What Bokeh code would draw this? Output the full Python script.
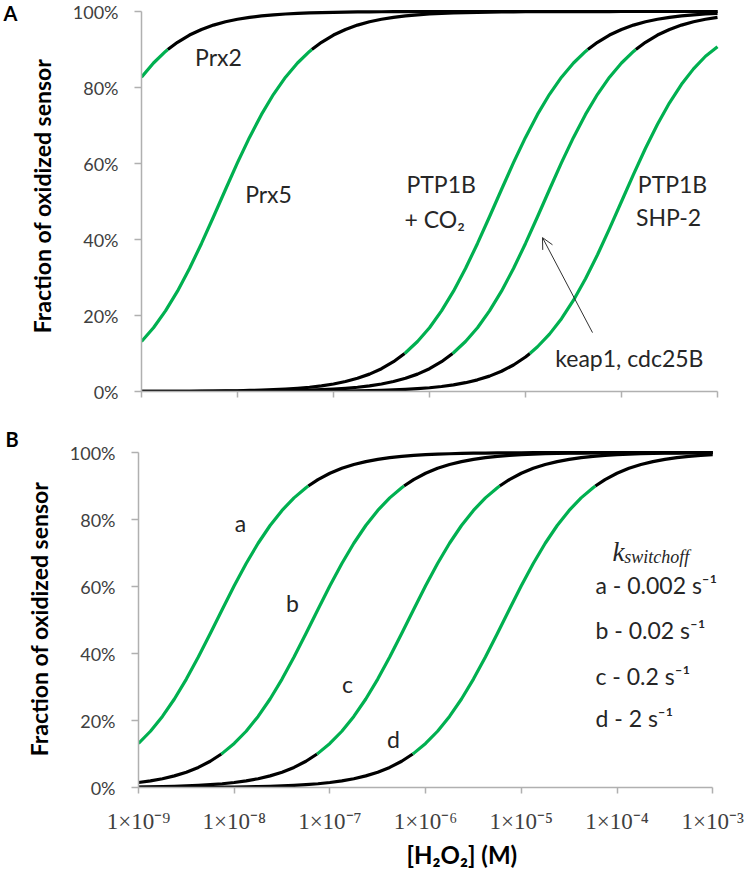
from bokeh.plotting import figure
from bokeh.layouts import column, row
from bokeh.models import (Range1d, FixedTicker, NumeralTickFormatter, Label, Arrow,
                          OpenHead, CustomJSTickFormatter, Title)
from bokeh.embed import file_html
from bokeh.resources import INLINE

# ---------------- data ----------------
# log10 of [H2O2] (M) at which the curve values were read
LOG_H2O2 = [-9.0, -8.875, -8.75, -8.625, -8.5, -8.375, -8.25, -8.125, -8.0, -7.875,
            -7.75, -7.625, -7.5, -7.375, -7.25, -7.125, -7.0, -6.875, -6.75, -6.625,
            -6.5, -6.375, -6.25, -6.125, -6.0, -5.875, -5.75, -5.625, -5.5, -5.375,
            -5.25, -5.125, -5.0, -4.875, -4.75, -4.625, -4.5, -4.375, -4.25, -4.125,
            -4.0, -3.875, -3.75, -3.625, -3.5, -3.375, -3.25, -3.125, -3.0]

# Panel A: fraction of oxidized sensor
prx2 = [0.8272, 0.8645, 0.8949, 0.9190, 0.9380, 0.9528, 0.9642, 0.9729, 0.9795, 0.9846,
        0.9884, 0.9913, 0.9934, 0.9951, 0.9963, 0.9972, 0.9979, 0.9984, 0.9988, 0.9991,
        0.9993, 0.9995, 0.9996, 0.9997, 0.9998, 0.9998, 0.9999, 0.9999, 1.0, 1.0,
        1.0, 1.0, 1.0, 1.0, 1.0, 1.0, 1.0, 1.0, 1.0, 1.0,
        1.0, 1.0, 1.0, 1.0, 1.0, 1.0, 1.0, 1.0, 1.0]
prx5 = [0.1315, 0.1679, 0.2121, 0.2641, 0.3237, 0.3896, 0.4598, 0.5316, 0.6021, 0.6687,
        0.7291, 0.7821, 0.8272, 0.8645, 0.8949, 0.9190, 0.9380, 0.9528, 0.9642, 0.9729,
        0.9795, 0.9846, 0.9884, 0.9913, 0.9934, 0.9951, 0.9963, 0.9972, 0.9979, 0.9984,
        0.9988, 0.9991, 0.9993, 0.9995, 0.9996, 0.9997, 0.9998, 0.9998, 0.9999, 0.9999,
        1.0, 1.0, 1.0, 1.0, 1.0, 1.0, 1.0, 1.0, 1.0]
ptp1b_co2 = [0.0002, 0.0003, 0.0004, 0.0005, 0.0006, 0.0008, 0.0011, 0.0015, 0.0020, 0.0027,
             0.0036, 0.0048, 0.0063, 0.0084, 0.0112, 0.0149, 0.0198, 0.0262, 0.0347, 0.0457,
             0.0600, 0.0784, 0.1019, 0.1315, 0.1679, 0.2121, 0.2641, 0.3237, 0.3896, 0.4598,
             0.5316, 0.6021, 0.6687, 0.7291, 0.7821, 0.8272, 0.8645, 0.8949, 0.9190, 0.9380,
             0.9528, 0.9642, 0.9729, 0.9795, 0.9846, 0.9884, 0.9913, 0.9934, 0.9951]
keap1 = [0.0001, 0.0001, 0.0001, 0.0002, 0.0002, 0.0003, 0.0004, 0.0005, 0.0006, 0.0008,
         0.0011, 0.0015, 0.0020, 0.0027, 0.0036, 0.0048, 0.0063, 0.0084, 0.0112, 0.0149,
         0.0198, 0.0262, 0.0347, 0.0457, 0.0600, 0.0784, 0.1019, 0.1315, 0.1679, 0.2121,
         0.2641, 0.3237, 0.3896, 0.4598, 0.5316, 0.6021, 0.6687, 0.7291, 0.7821, 0.8272,
         0.8645, 0.8949, 0.9190, 0.9380, 0.9528, 0.9642, 0.9729, 0.9795, 0.9846]
ptp1b_shp2 = [0.0000, 0.0000, 0.0000, 0.0000, 0.0000, 0.0000, 0.0001, 0.0001, 0.0001, 0.0001,
              0.0002, 0.0002, 0.0003, 0.0004, 0.0006, 0.0007, 0.0010, 0.0013, 0.0018, 0.0024,
              0.0032, 0.0042, 0.0056, 0.0074, 0.0099, 0.0132, 0.0175, 0.0232, 0.0307, 0.0405,
              0.0532, 0.0698, 0.0909, 0.1177, 0.1510, 0.1917, 0.2403, 0.2966, 0.3599, 0.4285,
              0.5000, 0.5715, 0.6401, 0.7034, 0.7597, 0.8083, 0.8490, 0.8823, 0.9070]

# Panel B: one curve per k_switchoff
curve_a = [0.1315, 0.1679, 0.2121, 0.2641, 0.3237, 0.3896, 0.4598, 0.5316, 0.6021, 0.6687,
           0.7291, 0.7821, 0.8272, 0.8645, 0.8949, 0.9190, 0.9380, 0.9528, 0.9642, 0.9729,
           0.9795, 0.9846, 0.9884, 0.9913, 0.9934, 0.9951, 0.9963, 0.9972, 0.9979, 0.9984,
           0.9988, 0.9991, 0.9993, 0.9995, 0.9996, 0.9997, 0.9998, 0.9998, 0.9999, 0.9999,
           1.0, 1.0, 1.0, 1.0, 1.0, 1.0, 1.0, 1.0, 1.0]
curve_b = [0.0149, 0.0198, 0.0262, 0.0347, 0.0457, 0.0600, 0.0784, 0.1019, 0.1315, 0.1679,
           0.2121, 0.2641, 0.3237, 0.3896, 0.4598, 0.5316, 0.6021, 0.6687, 0.7291, 0.7821,
           0.8272, 0.8645, 0.8949, 0.9190, 0.9380, 0.9528, 0.9642, 0.9729, 0.9795, 0.9846,
           0.9884, 0.9913, 0.9934, 0.9951, 0.9963, 0.9972, 0.9979, 0.9984, 0.9988, 0.9991,
           0.9993, 0.9995, 0.9996, 0.9997, 0.9998, 0.9998, 0.9999, 0.9999, 0.9999]
curve_c = [0.0015, 0.0020, 0.0027, 0.0036, 0.0048, 0.0063, 0.0084, 0.0112, 0.0149, 0.0198,
           0.0262, 0.0347, 0.0457, 0.0600, 0.0784, 0.1019, 0.1315, 0.1679, 0.2121, 0.2641,
           0.3237, 0.3896, 0.4598, 0.5316, 0.6021, 0.6687, 0.7291, 0.7821, 0.8272, 0.8645,
           0.8949, 0.9190, 0.9380, 0.9528, 0.9642, 0.9729, 0.9795, 0.9846, 0.9884, 0.9913,
           0.9934, 0.9951, 0.9963, 0.9972, 0.9979, 0.9984, 0.9988, 0.9991, 0.9993]
curve_d = [0.0002, 0.0002, 0.0003, 0.0004, 0.0005, 0.0006, 0.0008, 0.0011, 0.0015, 0.0020,
           0.0027, 0.0036, 0.0048, 0.0063, 0.0084, 0.0112, 0.0149, 0.0198, 0.0262, 0.0347,
           0.0457, 0.0600, 0.0784, 0.1019, 0.1315, 0.1679, 0.2121, 0.2641, 0.3237, 0.3896,
           0.4598, 0.5316, 0.6021, 0.6687, 0.7291, 0.7821, 0.8272, 0.8645, 0.8949, 0.9190,
           0.9380, 0.9528, 0.9642, 0.9729, 0.9795, 0.9846, 0.9884, 0.9913, 0.9934]

# log10 [H2O2] where each curve crosses 10% and 90% (None = outside the plotted range)
cross_prx2 = (None, -8.726)
cross_prx5 = (None, -7.226)
cross_ptp1b_co2 = (-6.259, -4.351)
cross_keap1 = (-5.759, -3.851)
cross_ptp1b_shp2 = (-4.954, None)
cross_a = (None, -7.226)
cross_b = (-8.134, -6.226)
cross_c = (-7.134, -5.226)
cross_d = (-6.134, -4.226)

TICK_LOGS = [-9, -8, -7, -6, -5, -4, -3]
TICK_LABELS = ["1×10⁻⁹", "1×10⁻⁸", "1×10⁻⁷", "1×10⁻⁶", "1×10⁻⁵", "1×10⁻⁴", "1×10⁻³"]
Y_TICKS = [0, 0.2, 0.4, 0.6, 0.8, 1.0]

GREEN = "#00b050"
BLACK = "#000000"
AXIS_GRAY = "#b0b0b0"
TXT = "#262626"
SANS = "Lato"
LETTER_W = 22
TOTAL_W = 748
H_A = 420
H_B = 451


def draw_curve(p, ys, cross):
    lo, hi = cross
    xs = LOG_H2O2
    low, mid, high = [], [], []
    for x, y in zip(xs, ys):
        if lo is not None and x <= lo:
            low.append((x, y))
        elif hi is not None and x >= hi:
            high.append((x, y))
        else:
            mid.append((x, y))
    if lo is not None:
        low.append((lo, 0.1))
        mid.insert(0, (lo, 0.1))
    if hi is not None:
        mid.append((hi, 0.9))
        high.insert(0, (hi, 0.9))
    for seg, col in ((low, BLACK), (high, BLACK), (mid, GREEN)):
        if len(seg) >= 2:
            p.line([s[0] for s in seg], [s[1] for s in seg], line_color=col,
                   line_width=3.2, line_join="round")


def make_fig(height, fig_x0, frame_left, px_per_decade, frame_top, frame_bottom, ymax,
             show_xlabels):
    width = TOTAL_W - fig_x0
    left = frame_left - fig_x0
    x_end = -9 + (width - left) / px_per_decade
    p = figure(width=width, height=height, x_range=Range1d(-9, x_end),
               y_range=Range1d(0, ymax), output_backend="svg", toolbar_location=None,
               min_border_left=left, min_border_right=0,
               min_border_top=frame_top, min_border_bottom=height - frame_bottom)
    p.outline_line_color = None
    p.grid.visible = False
    p.background_fill_color = "white"

    ya = p.yaxis[0]
    ya.ticker = FixedTicker(ticks=Y_TICKS)
    ya.formatter = NumeralTickFormatter(format="0%")
    ya.bounds = (0, 1)
    ya.axis_line_color = AXIS_GRAY
    ya.axis_line_width = 1.5
    ya.major_tick_line_color = AXIS_GRAY
    ya.major_tick_line_width = 1.5
    ya.major_tick_out = 7
    ya.major_tick_in = 0
    ya.minor_tick_line_color = None
    ya.major_label_text_font = SANS
    ya.major_label_text_font_size = "18px"
    ya.major_label_text_color = "#404040"
    ya.major_label_standoff = 16
    ya.axis_label = "Fraction of oxidized sensor"
    ya.axis_label_text_font = SANS
    ya.axis_label_text_font_style = "bold"
    ya.axis_label_text_font_size = "23px"
    ya.axis_label_text_color = BLACK
    ya.axis_label_standoff = 14

    xa = p.xaxis[0]
    xa.ticker = FixedTicker(ticks=TICK_LOGS)
    xa.bounds = (-9, -3)
    xa.axis_line_color = AXIS_GRAY
    xa.axis_line_width = 1.5
    xa.major_tick_line_color = AXIS_GRAY
    xa.major_tick_line_width = 1.5
    xa.major_tick_out = 6
    xa.major_tick_in = 0
    xa.minor_tick_line_color = None
    if show_xlabels:
        xa.formatter = CustomJSTickFormatter(
            args=dict(tick_text=TICK_LABELS, tick_pos=TICK_LOGS),
            code="return tick_text[tick_pos.indexOf(Math.round(tick))];")
        xa.major_label_text_font = "Liberation Serif"
        xa.major_label_text_font_size = "23px"
        xa.major_label_text_color = "#404040"
        xa.major_label_standoff = 15
    else:
        xa.formatter = CustomJSTickFormatter(code="return '';")
        xa.major_label_standoff = 0
    return p


def add_label(p, x, y, text, size="23px", align="left", font=SANS, style="normal",
              baseline="middle", color=TXT):
    p.add_layout(Label(x=x, y=y, text=text, text_font=font, text_font_size=size,
                       text_align=align, text_baseline=baseline, text_color=color,
                       text_font_style=style))


# ---------------- panel letter A (narrow strip, y measured from the top) ----------------
letters = figure(width=LETTER_W, height=H_A, x_range=Range1d(0, LETTER_W),
                 y_range=Range1d(H_A, 0), output_backend="svg", toolbar_location=None,
                 x_axis_location=None, y_axis_location=None, title=None,
                 min_border_left=0, min_border_right=0, min_border_top=0, min_border_bottom=0)
letters.outline_line_color = None
letters.grid.visible = False
letters.add_layout(Label(x=10, y=13, text="A", text_font=SANS, text_font_size="20px",
                         text_font_style="bold", text_align="center",
                         text_baseline="middle", text_color=BLACK))

# ---------------- panel A ----------------
# frame: 1e-9 at x=141, 96 px per decade; 100% at y=11, 0% at y=391
pa = make_fig(H_A, LETTER_W, 141, 96.0, 0, 391, 1 + 11 / 380, False)
for ys, cr in ((prx2, cross_prx2), (prx5, cross_prx5), (ptp1b_co2, cross_ptp1b_co2),
               (keap1, cross_keap1), (ptp1b_shp2, cross_ptp1b_shp2)):
    draw_curve(pa, ys, cr)

add_label(pa, -8.198, 0.879, "Prx2", align="center")
add_label(pa, -7.677, 0.521, "Prx5", align="center")
add_label(pa, -6.24, 0.547, "PTP1B")
add_label(pa, -6.26, 0.455, "+ CO₂")
add_label(pa, -3.83, 0.547, "PTP1B")
add_label(pa, -3.85, 0.458, "SHP-2")
add_label(pa, -4.69, 0.087, "keap1, cdc25B")
pa.add_layout(Arrow(end=OpenHead(size=11, line_width=1, line_color="#303030"),
                    x_start=-4.302, y_start=0.155, x_end=-4.823, y_end=0.405,
                    line_color="#303030", line_width=1))

# ---------------- panel B (full width, letter B drawn as a left-shifted title) ----------------
# figure starts at y=420; frame top at 450 (30), 100% at y=452 (32), 0% at y=787 (367)
pb = make_fig(H_B, 0, 138, 95.7, 30, 367, 1 + 2 / 335, True)
pb.add_layout(Title(text="B", align="left", offset=-133, vertical_align="bottom",
                    standoff=0, text_font=SANS, text_font_size="20px",
                    text_font_style="bold", text_color=BLACK), "above")
for ys, cr in ((curve_a, cross_a), (curve_b, cross_b), (curve_c, cross_c), (curve_d, cross_d)):
    draw_curve(pb, ys, cr)

add_label(pb, -7.934, 0.791, "a", align="center")
add_label(pb, -7.391, 0.552, "b", align="center")
add_label(pb, -6.816, 0.310, "c", align="center")
add_label(pb, -6.335, 0.146, "d", align="center")
add_label(pb, -4.047, 0.704, "k", size="27px", font="Liberation Serif", style="italic",
          baseline="alphabetic")
add_label(pb, -3.925, 0.687, "switchoff", size="18px", font="Liberation Serif",
          style="italic", baseline="alphabetic")
add_label(pb, -4.225, 0.603, "a - 0.002 s⁻¹")
add_label(pb, -4.225, 0.469, "b - 0.02 s⁻¹")
add_label(pb, -4.225, 0.334, "c - 0.2 s⁻¹")
add_label(pb, -4.225, 0.206, "d - 2 s⁻¹")
pb.add_layout(Title(text="[H₂O₂] (M)", align="left", offset=268, text_font=SANS,
                    text_font_size="24px", text_font_style="bold", text_color=BLACK,
                    standoff=2), "below")

layout = column(row(letters, pa, spacing=0), pb, spacing=0)
open("out.html", "w").write(file_html(layout, INLINE))
